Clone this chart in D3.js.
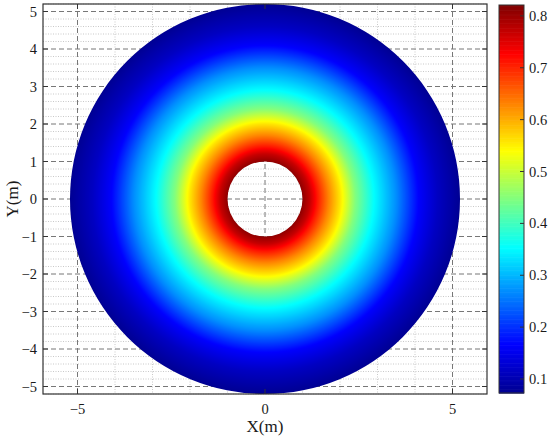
<!DOCTYPE html>
<html>
<head>
<meta charset="utf-8">
<script src="https://cdn.jsdelivr.net/npm/d3@7"></script>
<style>
  body { margin: 0; background: #fff; }
  text { font-family: "Liberation Serif", "Times New Roman", serif; fill: #1a1a1a; }
</style>
</head>
<body>
<div id="chart"></div>
<script>
// radial profile (radius in m -> value)
var radii = [1.0, 1.2, 1.4, 1.7, 2.0, 2.4, 2.9, 3.5, 4.1, 4.6, 5.2];
var values = [0.81, 0.77, 0.71, 0.63, 0.56, 0.45, 0.355, 0.27, 0.165, 0.115, 0.075];
var xTicks = [-5, 0, 5];
var yTicks = [-5, -4, -3, -2, -1, 0, 1, 2, 3, 4, 5];
var cTicks = [0.1, 0.2, 0.3, 0.4, 0.5, 0.6, 0.7, 0.8];
var cRange = [0.073, 0.821];

var width = 550, height = 442;
var plotL = 43, plotR = 487, plotT = 4, plotB = 394;

var svg = d3.select("#chart").append("svg")
    .attr("width", width).attr("height", height);

var x = d3.scaleLinear().domain([-5.92, 5.92]).range([plotL, plotR]);
var y = d3.scaleLinear().domain([-5.2, 5.2]).range([plotB, plotT]);

// jet colour map over the colour bar range
var jetStops = [0, 0.125, 0.375, 0.625, 0.875, 1];
var jet = d3.scaleLinear()
    .domain(jetStops.map(function(t) { return cRange[0] + t * (cRange[1] - cRange[0]); }))
    .range(["#000090", "#0000ff", "#00ffff", "#ffff00", "#ff0000", "#800000"])
    .clamp(true);
var profile = d3.scaleLinear().domain(radii).range(values);

var fmt = function(d) { return d < 0 ? "\u2212" + Math.abs(d) : d; };

// grid
var grid = svg.append("g");
d3.range(-5, 6).filter(function(d) { return xTicks.indexOf(d) < 0; }).forEach(function(d) {
    grid.append("line").attr("x1", x(d)).attr("x2", x(d)).attr("y1", plotT).attr("y2", plotB)
        .attr("stroke", "#bbb").attr("stroke-width", 0.8).attr("stroke-dasharray", "1,1.5");
});
d3.range(-26, 27).map(function(i) { return i / 5; })
    .filter(function(d) { return Math.abs(d - Math.round(d)) > 1e-6; }).forEach(function(d) {
    grid.append("line").attr("x1", plotL).attr("x2", plotR).attr("y1", y(d)).attr("y2", y(d))
        .attr("stroke", "#bbb").attr("stroke-width", 0.8).attr("stroke-dasharray", "1,1.5");
});
xTicks.forEach(function(d) {
    grid.append("line").attr("x1", x(d)).attr("x2", x(d)).attr("y1", plotT).attr("y2", plotB)
        .attr("stroke", "#777").attr("stroke-dasharray", "5,3");
});
yTicks.forEach(function(d) {
    grid.append("line").attr("x1", plotL).attr("x2", plotR).attr("y1", y(d)).attr("y2", y(d))
        .attr("stroke", "#777").attr("stroke-dasharray", "5,3");
});

// annulus with radial colour
var k = x(1) - x(0);
var rMax = radii[radii.length - 1];
var defs = svg.append("defs");
var grad = defs.append("radialGradient").attr("id", "ring")
    .attr("gradientUnits", "userSpaceOnUse")
    .attr("cx", 0).attr("cy", 0).attr("r", rMax * k);
d3.range(0, 261).forEach(function(i) {
    var r = i / 260 * rMax;
    var v = r < radii[0] ? values[0] : profile(r);
    grad.append("stop").attr("offset", r / rMax).attr("stop-color", jet(v));
});
var arc = d3.arc().innerRadius(radii[0] * k).outerRadius(rMax * k)
    .startAngle(0).endAngle(2 * Math.PI);
svg.append("path")
    .attr("transform", "translate(" + x(0) + "," + y(0) + ")")
    .attr("d", arc())
    .attr("fill", "url(#ring)");

// axes frame and ticks
svg.append("rect").attr("x", plotL).attr("y", plotT)
    .attr("width", plotR - plotL).attr("height", plotB - plotT)
    .attr("fill", "none").attr("stroke", "#333").attr("stroke-width", 1.2);
xTicks.forEach(function(d) {
    svg.append("line").attr("x1", x(d)).attr("x2", x(d)).attr("y1", plotB).attr("y2", plotB - 5).attr("stroke", "#333");
    svg.append("line").attr("x1", x(d)).attr("x2", x(d)).attr("y1", plotT).attr("y2", plotT + 5).attr("stroke", "#333");
    svg.append("text").attr("x", x(d)).attr("y", 414).attr("text-anchor", "middle")
        .attr("font-size", 14.5).text(fmt(d));
});
yTicks.forEach(function(d) {
    svg.append("line").attr("x1", plotL).attr("x2", plotL + 5).attr("y1", y(d)).attr("y2", y(d)).attr("stroke", "#333");
    svg.append("line").attr("x1", plotR).attr("x2", plotR - 5).attr("y1", y(d)).attr("y2", y(d)).attr("stroke", "#333");
    svg.append("text").attr("x", 37).attr("y", y(d)).attr("dy", "0.35em").attr("text-anchor", "end")
        .attr("font-size", 14.5).text(fmt(d));
});
svg.append("text").attr("x", x(0)).attr("y", 432).attr("text-anchor", "middle")
    .attr("font-size", 17).text("X(m)");
svg.append("text").attr("transform", "translate(18," + y(0) + ") rotate(-90)")
    .attr("text-anchor", "middle").attr("font-size", 17).text("Y(m)");

// colour bar
var cbX = 499, cbW = 25;
var c = d3.scaleLinear().domain(cRange).range([393, 5]);
var n = 300;
d3.range(n).forEach(function(i) {
    var v0 = cRange[0] + i / n * (cRange[1] - cRange[0]);
    var v1 = cRange[0] + (i + 1) / n * (cRange[1] - cRange[0]);
    svg.append("rect").attr("x", cbX).attr("width", cbW)
        .attr("y", c(v1)).attr("height", c(v0) - c(v1) + 0.6)
        .attr("fill", jet((v0 + v1) / 2));
});
svg.append("rect").attr("x", cbX).attr("y", 5).attr("width", cbW).attr("height", 388)
    .attr("fill", "none").attr("stroke", "#333");
cTicks.forEach(function(d) {
    svg.append("line").attr("x1", cbX + cbW).attr("x2", cbX + cbW - 4)
        .attr("y1", c(d)).attr("y2", c(d)).attr("stroke", "#333");
    svg.append("text").attr("x", 529).attr("y", c(d)).attr("dy", "0.35em")
        .attr("font-size", 14.5).text(d.toFixed(1));
});
</script>
</body>
</html>
